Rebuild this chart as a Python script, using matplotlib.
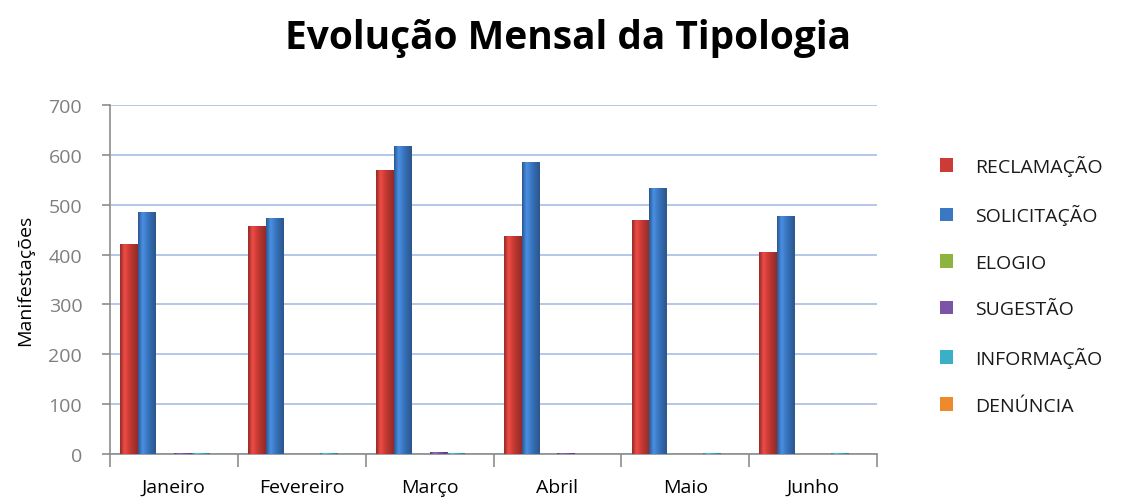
import numpy as np
import matplotlib
matplotlib.use("Agg")
import matplotlib.pyplot as plt
from matplotlib.colors import LinearSegmentedColormap, to_rgb

months = ["Janeiro", "Fevereiro", "Março", "Abril", "Maio", "Junho"]
series_names = ["RECLAMAÇÃO", "SOLICITAÇÃO", "ELOGIO", "SUGESTÃO", "INFORMAÇÃO", "DENÚNCIA"]
reclamacao = [422, 457, 570, 438, 469, 406]
solicitacao = [486, 473, 617, 585, 533, 477]
elogio = [1, 1, 1, 0, 1, 0]
sugestao = [2, 1, 5, 2, 1, 1]
informacao = [2, 2, 3, 1, 3, 3]
denuncia = [0, 0, 0, 1, 1, 0]
values = [reclamacao, solicitacao, elogio, sugestao, informacao, denuncia]
colors = ["#CC3B36", "#3A78C4", "#8DB43E", "#7B54A8", "#3AAFC8", "#EE8A2C"]

plt.rcParams['font.family'] = ['Open Sans', 'DejaVu Sans']
fig = plt.figure(figsize=(11.26, 5.02), dpi=100)
ax = fig.add_axes([110/1126, 1-455/502, (877-110)/1126, (455-106)/502])

n = len(series_names)
x = np.arange(len(months))
w = 0.14
offsets = (np.arange(n) - (n-1)/2) * w
handles = []
for i, (name, vals, col) in enumerate(zip(series_names, values, colors)):
    bars = ax.bar(x + offsets[i], vals, w, color=col, edgecolor='none', label=name, zorder=3)
    handles.append(bars)
    base = np.array(to_rgb(col))
    dark = base * 0.72
    light = np.minimum(base * 1.12 + 0.04, 1)
    cmap = LinearSegmentedColormap.from_list("g", [dark, light, base, base*0.85, dark])
    grad = np.linspace(0, 1, 64).reshape(1, -1)
    for p in bars.patches:
        if p.get_height() <= 0:
            continue
        bx, by = p.get_x(), p.get_y()
        im = ax.imshow(grad, cmap=cmap, aspect='auto', zorder=3.5,
                       extent=(bx, bx + p.get_width(), by, by + p.get_height()),
                       interpolation='bicubic')
        im.set_clip_path(p)

ax.set_xlim(-0.5, len(months) - 0.5)
ax.set_ylim(0, 700)
ax.set_yticks(np.arange(0, 701, 100))
ax.yaxis.grid(True, color='#AFC3E8', linewidth=1.3, zorder=0)
ax.set_axisbelow(True)
for s in ['top', 'right']:
    ax.spines[s].set_visible(False)
for s in ['left', 'bottom']:
    ax.spines[s].set_color('#8C8C8C')
    ax.spines[s].set_linewidth(1.2)
ax.tick_params(axis='y', colors='#8C8C8C', labelcolor='#7F7F7F', labelsize=14, length=6, width=1.2,
               direction='out', pad=14)
ax.set_xticks(x)
ax.set_xticklabels(months)
ax.set_xticks(np.arange(-0.5, len(months)), minor=True)
ax.tick_params(axis='x', which='major', length=0, pad=17, labelsize=14, labelcolor='black')
ax.tick_params(axis='x', which='minor', length=9, width=1.2, color='#8C8C8C', direction='out')
ax.set_ylabel("Manifestações", fontsize=14, labelpad=10)

fig.text(568/1126, 1-38/502, "Evolução Mensal da Tipologia", ha='center', va='center',
         fontsize=28, fontweight='bold')

leg = fig.legend(handles=handles, labels=series_names, loc='upper left',
                 bbox_to_anchor=(922/1126, 1-138/502), frameon=False, fontsize=14,
                 handlelength=0.7, handleheight=0.7, labelspacing=1.47, handletextpad=1.15)
for t in leg.get_texts():
    t.set_color('#1A1A1A')

fig.savefig("out.png", dpi=100)
